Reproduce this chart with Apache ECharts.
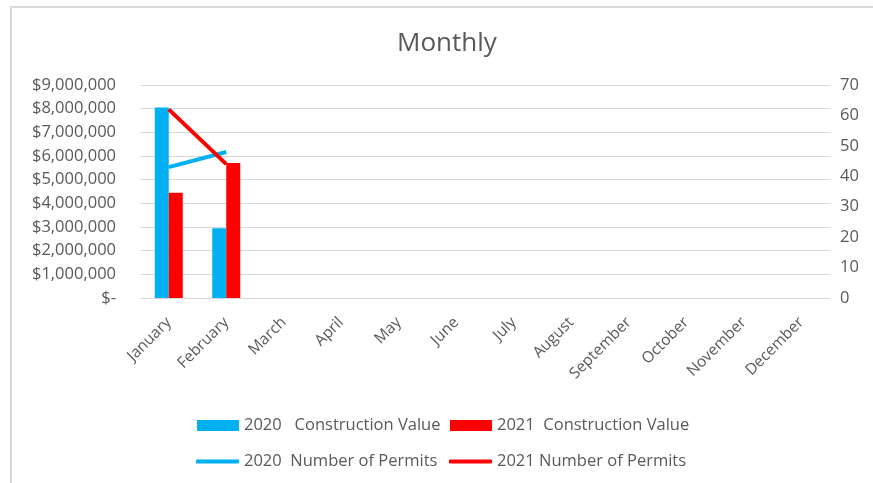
<!DOCTYPE html>
<html>
<head>
<meta charset="utf-8">
<script src="https://cdn.jsdelivr.net/npm/echarts@6/dist/echarts.min.js"></script>
<style>
html,body{margin:0;padding:0;background:#fff;}
#chart{width:873px;height:483px;}
</style>
</head>
<body>
<div id="chart"></div>
<script>
const months = ["January","February","March","April","May","June","July","August","September","October","November","December"];
const value2020 = [8050000, 2950000, null, null, null, null, null, null, null, null, null, null];
const value2021 = [4450000, 5700000, null, null, null, null, null, null, null, null, null, null];
const permits2020 = [43, 48, null, null, null, null, null, null, null, null, null, null];
const permits2021 = [62, 44, null, null, null, null, null, null, null, null, null, null];
const leftTicks = [0, 1000000, 9000000]; // min, interval, max
const rightTicks = [0, 10, 70];

const FONT = "Open Sans";
const TXT = "#595959";
const names = ["2020   Construction Value", "2021  Construction Value", "2020  Number of Permits", "2021 Number of Permits"];

function money(v){
  if (v === 0) return "$-";
  return "$" + v.toLocaleString("en-US");
}

const chart = echarts.init(document.getElementById("chart"));
const legendText = {color: TXT, fontFamily: FONT, fontSize: 16.5};
chart.setOption({
  animation: false,
  backgroundColor: "#fff",
  title: {text: "Monthly", left: 397, top: 31, padding: 0, textStyle: {color: TXT, fontFamily: FONT, fontSize: 26, fontWeight: "normal"}},
  graphic: [
    {type: "line", shape: {x1: 11, y1: 6, x2: 11, y2: 483}, style: {stroke: "#d9d9d9", lineWidth: 2}},
    {type: "line", shape: {x1: 10, y1: 7, x2: 873, y2: 7}, style: {stroke: "#d9d9d9", lineWidth: 2}}
  ],
  grid: {left: 140, right: 43, top: 85, bottom: 185},
  legend: [
    {data: [names[0]], left: 197, top: 417, padding: 0, itemWidth: 42, itemHeight: 11, icon: "rect", textStyle: legendText},
    {data: [names[1]], left: 450, top: 417, padding: 0, itemWidth: 42, itemHeight: 11, icon: "rect", textStyle: legendText},
    {data: [names[2]], left: 196, top: 453, padding: 0, itemWidth: 43, itemHeight: 4, icon: "roundRect", textStyle: legendText},
    {data: [names[3]], left: 449, top: 453, padding: 0, itemWidth: 43, itemHeight: 4, icon: "roundRect", textStyle: legendText}
  ],
  xAxis: {
    type: "category", data: months,
    axisLine: {lineStyle: {color: "#d9d9d9", width: 1}},
    axisTick: {show: false},
    axisLabel: {rotate: 45, color: TXT, fontFamily: FONT, fontSize: 15.5, interval: 0, margin: 22}
  },
  yAxis: [
    {type: "value", min: leftTicks[0], interval: leftTicks[1], max: leftTicks[2],
     axisLine: {show: false}, axisTick: {show: false},
     axisLabel: {formatter: money, color: TXT, fontFamily: FONT, fontSize: 16.5, margin: 24},
     splitLine: {lineStyle: {color: "#d9d9d9", width: 1}}},
    {type: "value", min: rightTicks[0], interval: rightTicks[1], max: rightTicks[2],
     axisLine: {show: false}, axisTick: {show: false},
     axisLabel: {color: TXT, fontFamily: FONT, fontSize: 16.5, margin: 10},
     splitLine: {show: false}}
  ],
  series: [
    {name: names[0], type: "bar", data: value2020, barWidth: 14, barGap: "0%", itemStyle: {color: "#00B0F0"}},
    {name: names[1], type: "bar", data: value2021, barWidth: 14, barGap: "0%", itemStyle: {color: "#FF0000"}},
    {name: names[2], type: "line", yAxisIndex: 1, data: permits2020, symbol: "none", lineStyle: {color: "#00B0F0", width: 4}, itemStyle: {color: "#00B0F0"}},
    {name: names[3], type: "line", yAxisIndex: 1, data: permits2021, symbol: "none", lineStyle: {color: "#FF0000", width: 4}, itemStyle: {color: "#FF0000"}}
  ]
});
</script>
</body>
</html>
